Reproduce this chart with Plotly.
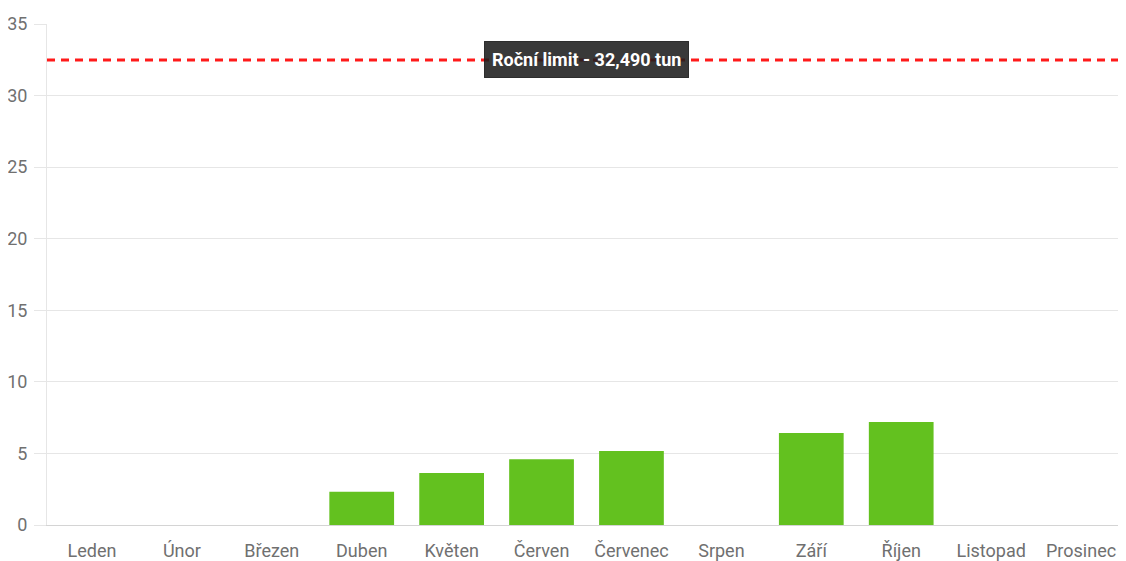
import plotly.graph_objects as go

months = ["Leden", "Únor", "Březen", "Duben", "Květen", "Červen",
          "Červenec", "Srpen", "Září", "Říjen", "Listopad", "Prosinec"]
values = [0, 0, 0, 2.33, 3.63, 4.59, 5.17, 0, 6.43, 7.2, 0, 0]
annual_limit = 32.49
limit_label = "Roční limit - 32,490 tun"
y_ticks = [0, 5, 10, 15, 20, 25, 30, 35]

fig = go.Figure()
fig.add_trace(go.Bar(
    x=months, y=values,
    marker=dict(color="#63C11F", line=dict(width=0)),
    hoverinfo="x+y",
))

fig.add_shape(type="line", xref="paper", x0=0, x1=1, yref="y",
              y0=annual_limit, y1=annual_limit,
              line=dict(color="#FF1A1A", width=3, dash="8px,6px"))

fig.add_annotation(xref="paper", x=0.5, yref="y", y=annual_limit,
                   text="<b>" + limit_label + "</b>", showarrow=False,
                   font=dict(color="white", size=18, family="Roboto"),
                   bgcolor="rgba(30,30,30,0.88)", borderpad=7,
                   bordercolor="rgba(30,30,30,0.88)", borderwidth=1)

fig.update_layout(
    width=1118, height=553,
    margin=dict(l=39, r=0, t=16, b=36),
    paper_bgcolor="white", plot_bgcolor="white",
    bargap=0.28,
    showlegend=False,
    font=dict(family="Roboto", size=18, color="#707070"),
    xaxis=dict(showgrid=False, showline=True, linecolor="#d4d4d4",
               linewidth=1, ticks="", zeroline=False, fixedrange=True,
               ticklabelstandoff=9),
    yaxis=dict(range=[0, 35], tickvals=y_ticks, showgrid=True,
               gridcolor="#e6e6e6", gridwidth=1, zeroline=False,
               showline=True, linecolor="#e6e6e6", linewidth=1,
               ticks="outside", ticklen=12, tickcolor="#e6e6e6",
               ticklabelstandoff=3),
)

fig.write_html("out.html")
